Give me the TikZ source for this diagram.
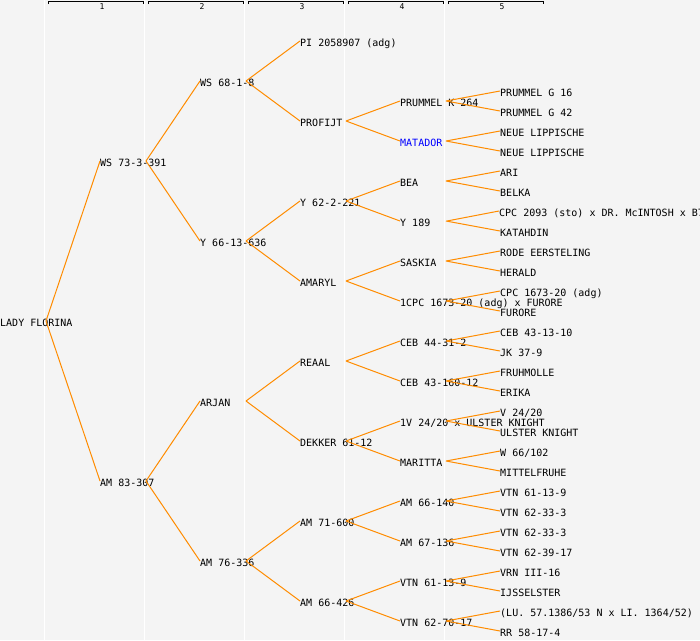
\documentclass[tikz,border=0pt]{standalone}
\usepackage{fontspec}
\newfontfamily\pedfont{DejaVu Sans Mono}
\definecolor{bggray}{RGB}{244,244,244}
\definecolor{linkorange}{RGB}{255,140,0}
\tikzset{
  ped/.style={anchor=west,inner sep=0pt,text height=10pt,text depth=0pt,font=\pedfont\fontsize{10}{12}\selectfont},
  link/.style={linkorange,line width=1pt},
  colhead/.style={line width=1pt},
  colnum/.style={inner sep=0pt,font=\pedfont\fontsize{8}{9}\selectfont},
  sep/.style={white,line width=1pt}
}
\begin{document}
\begin{tikzpicture}[x=1pt,y=-1pt]
    \useasboundingbox (0,0) rectangle (700,640);
    \fill[bggray] (0,0) rectangle (700,640);
    % column separators and headers
    \draw[sep] (44.5,0) -- (44.5,640) (144.5,0) -- (144.5,640) (244.5,0) -- (244.5,640) (344.5,0) -- (344.5,640) (444.5,0) -- (444.5,640);
    \draw[colhead] (48,4) |- (143,1) -- (143,4) (148,4) |- (243,1) -- (243,4) (248,4) |- (343,1) -- (343,4) (348,4) |- (443,1) -- (443,4) (448,4) |- (543,1) -- (543,4);
    \node[colnum] (h1) at (102,6.5) {1};
    \node[colnum] (h2) at (202,6.5) {2};
    \node[colnum] (h3) at (302,6.5) {3};
    \node[colnum] (h4) at (402,6.5) {4};
    \node[colnum] (h5) at (502,6.5) {5};
    % generation 0 to 2
    \node[ped] (p) at (0,321) {LADY FLORINA};
    \node[ped] (s) at (100,161) {WS 73-3-391};
    \node[ped] (d) at (100,481) {AM 83-307};
    \node[ped] (ss) at (200,81) {WS 68-1-8};
    \node[ped] (sd) at (200,241) {Y 66-13-636};
    \node[ped] (ds) at (200,401) {ARJAN};
    \node[ped] (dd) at (200,561) {AM 76-336};
    % generation 3
    \node[ped] (sss) at (300,41) {PI 2058907 (adg)};
    \node[ped] (ssd) at (300,121) {PROFIJT};
    \node[ped] (sds) at (300,201) {Y 62-2-221};
    \node[ped] (sdd) at (300,281) {AMARYL};
    \node[ped] (dss) at (300,361) {REAAL};
    \node[ped] (dsd) at (300,441) {DEKKER 61-12};
    \node[ped] (dds) at (300,521) {AM 71-600};
    \node[ped] (ddd) at (300,601) {AM 66-426};
    % generation 4
    \node[ped] (ssds) at (400,101) {PRUMMEL K 264};
    \node[ped,blue] (ssdd) at (400,141) {MATADOR};
    \node[ped] (sdss) at (400,181) {BEA};
    \node[ped] (sdsd) at (400,221) {Y 189};
    \node[ped] (sdds) at (400,261) {SASKIA};
    \node[ped] (sddd) at (400,301) {1CPC 1673-20 (adg) x FURORE};
    \node[ped] (dsss) at (400,341) {CEB 44-31-2};
    \node[ped] (dssd) at (400,381) {CEB 43-160-12};
    \node[ped] (dsds) at (400,421) {1V 24/20 x ULSTER KNIGHT};
    \node[ped] (dsdd) at (400,461) {MARITTA};
    \node[ped] (ddss) at (400,501) {AM 66-140};
    \node[ped] (ddsd) at (400,541) {AM 67-136};
    \node[ped] (ddds) at (400,581) {VTN 61-13-9};
    \node[ped] (dddd) at (400,621) {VTN 62-70-17};
    % generation 5
    \node[ped] (ssdss) at (500,91) {PRUMMEL G 16};
    \node[ped] (ssdsd) at (500,111) {PRUMMEL G 42};
    \node[ped] (ssdds) at (500,131) {NEUE LIPPISCHE};
    \node[ped] (ssddd) at (500,151) {NEUE LIPPISCHE};
    \node[ped] (sdsss) at (500,171) {ARI};
    \node[ped] (sdssd) at (500,191) {BELKA};
    \node[ped] (sdsds) at (499,211) {CPC 2093 (sto) x DR. McINTOSH x B7};
    \node[ped] (sdsdd) at (500,231) {KATAHDIN};
    \node[ped] (sddss) at (500,251) {RODE EERSTELING};
    \node[ped] (sddsd) at (500,271) {HERALD};
    \node[ped] (sddds) at (500,291) {CPC 1673-20 (adg)};
    \node[ped] (sdddd) at (500,311) {FURORE};
    \node[ped] (dssss) at (500,331) {CEB 43-13-10};
    \node[ped] (dsssd) at (500,351) {JK 37-9};
    \node[ped] (dssds) at (500,371) {FRUHMOLLE};
    \node[ped] (dssdd) at (500,391) {ERIKA};
    \node[ped] (dsdss) at (500,411) {V 24/20};
    \node[ped] (dsdsd) at (500,431) {ULSTER KNIGHT};
    \node[ped] (dsdds) at (500,451) {W 66/102};
    \node[ped] (dsddd) at (500,471) {MITTELFRUHE};
    \node[ped] (ddsss) at (500,491) {VTN 61-13-9};
    \node[ped] (ddssd) at (500,511) {VTN 62-33-3};
    \node[ped] (ddsds) at (500,531) {VTN 62-33-3};
    \node[ped] (ddsdd) at (500,551) {VTN 62-39-17};
    \node[ped] (dddss) at (500,571) {VRN III-16};
    \node[ped] (dddsd) at (500,591) {IJSSELSTER};
    \node[ped] (dddds) at (500,611) {(LU. 57.1386/53 N x LI. 1364/52)};
    \node[ped] (ddddd) at (500,631) {RR 58-17-4};
    % links from each plant to its parents
    \draw[link] ([xshift=46pt]p.west) -- (s.west) ([xshift=46pt]p.west) -- (d.west);
    \draw[link] ([xshift=46pt]s.west) -- (ss.west) ([xshift=46pt]s.west) -- (sd.west);
    \draw[link] ([xshift=46pt]d.west) -- (ds.west) ([xshift=46pt]d.west) -- (dd.west);
    \draw[link] ([xshift=46pt]ss.west) -- (sss.west) ([xshift=46pt]ss.west) -- (ssd.west);
    \draw[link] ([xshift=46pt]sd.west) -- (sds.west) ([xshift=46pt]sd.west) -- (sdd.west);
    \draw[link] ([xshift=46pt]ds.west) -- (dss.west) ([xshift=46pt]ds.west) -- (dsd.west);
    \draw[link] ([xshift=46pt]dd.west) -- (dds.west) ([xshift=46pt]dd.west) -- (ddd.west);
    \draw[link] ([xshift=46pt]ssd.west) -- (ssds.west) ([xshift=46pt]ssd.west) -- (ssdd.west);
    \draw[link] ([xshift=46pt]sds.west) -- (sdss.west) ([xshift=46pt]sds.west) -- (sdsd.west);
    \draw[link] ([xshift=46pt]sdd.west) -- (sdds.west) ([xshift=46pt]sdd.west) -- (sddd.west);
    \draw[link] ([xshift=46pt]dss.west) -- (dsss.west) ([xshift=46pt]dss.west) -- (dssd.west);
    \draw[link] ([xshift=46pt]dsd.west) -- (dsds.west) ([xshift=46pt]dsd.west) -- (dsdd.west);
    \draw[link] ([xshift=46pt]dds.west) -- (ddss.west) ([xshift=46pt]dds.west) -- (ddsd.west);
    \draw[link] ([xshift=46pt]ddd.west) -- (ddds.west) ([xshift=46pt]ddd.west) -- (dddd.west);
    \draw[link] ([xshift=46pt]ssds.west) -- (ssdss.west) ([xshift=46pt]ssds.west) -- (ssdsd.west);
    \draw[link] ([xshift=46pt]ssdd.west) -- (ssdds.west) ([xshift=46pt]ssdd.west) -- (ssddd.west);
    \draw[link] ([xshift=46pt]sdss.west) -- (sdsss.west) ([xshift=46pt]sdss.west) -- (sdssd.west);
    \draw[link] ([xshift=47pt]sdsd.west) -- (sdsds.west) ([xshift=46pt]sdsd.west) -- (sdsdd.west);
    \draw[link] ([xshift=46pt]sdds.west) -- (sddss.west) ([xshift=46pt]sdds.west) -- (sddsd.west);
    \draw[link] ([xshift=46pt]sddd.west) -- (sddds.west) ([xshift=46pt]sddd.west) -- (sdddd.west);
    \draw[link] ([xshift=46pt]dsss.west) -- (dssss.west) ([xshift=46pt]dsss.west) -- (dsssd.west);
    \draw[link] ([xshift=46pt]dssd.west) -- (dssds.west) ([xshift=46pt]dssd.west) -- (dssdd.west);
    \draw[link] ([xshift=46pt]dsds.west) -- (dsdss.west) ([xshift=46pt]dsds.west) -- (dsdsd.west);
    \draw[link] ([xshift=46pt]dsdd.west) -- (dsdds.west) ([xshift=46pt]dsdd.west) -- (dsddd.west);
    \draw[link] ([xshift=46pt]ddss.west) -- (ddsss.west) ([xshift=46pt]ddss.west) -- (ddssd.west);
    \draw[link] ([xshift=46pt]ddsd.west) -- (ddsds.west) ([xshift=46pt]ddsd.west) -- (ddsdd.west);
    \draw[link] ([xshift=46pt]ddds.west) -- (dddss.west) ([xshift=46pt]ddds.west) -- (dddsd.west);
    \draw[link] ([xshift=46pt]dddd.west) -- (dddds.west) ([xshift=46pt]dddd.west) -- (ddddd.west);
\end{tikzpicture}
\end{document}
